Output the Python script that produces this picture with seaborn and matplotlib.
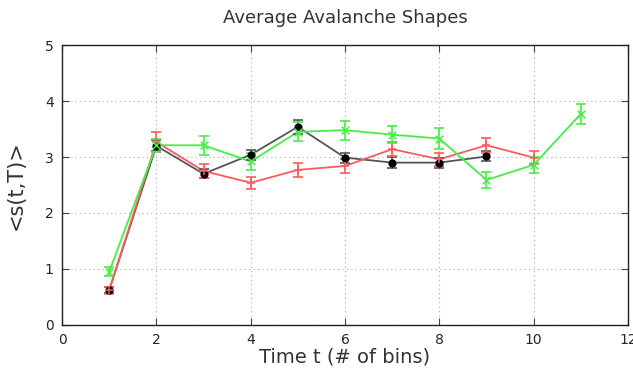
import matplotlib
matplotlib.use("Agg")
import matplotlib.pyplot as plt
import pandas as pd
import seaborn as sns

# series
black_t = [1, 2, 3, 4, 5, 6, 7, 8, 9]
black_s = [0.62, 3.20, 2.70, 3.04, 3.54, 2.99, 2.90, 2.90, 3.01]
black_err = [0.05, 0.10, 0.08, 0.09, 0.12, 0.09, 0.10, 0.09, 0.09]

red_t = [1, 2, 3, 4, 5, 6, 7, 8, 9, 10]
red_s = [0.62, 3.27, 2.75, 2.54, 2.77, 2.84, 3.14, 2.96, 3.21, 2.99]
red_err = [0.06, 0.18, 0.12, 0.11, 0.12, 0.12, 0.12, 0.12, 0.13, 0.12]

green_t = [1, 2, 3, 4, 5, 6, 7, 8, 9, 10, 11]
green_s = [0.95, 3.21, 3.21, 2.92, 3.45, 3.48, 3.40, 3.33, 2.59, 2.86, 3.77]
green_err = [0.08, 0.12, 0.17, 0.16, 0.17, 0.17, 0.15, 0.18, 0.14, 0.14, 0.18]

series = [
    ("black", black_t, black_s, black_err, "#555555", "o"),
    ("red", red_t, red_s, red_err, "#ff5a5a", "+"),
    ("green", green_t, green_s, green_err, "#44ee44", "x"),
]

sns.set_style("ticks")
plt.rcParams["font.family"] = ["DejaVu Sans"]

fig = plt.figure(figsize=(6.33, 3.76), dpi=100)
ax = fig.add_axes([0.098, 0.136, 0.894, 0.744])

for name, t, s, e, col, mk in series:
    df = pd.DataFrame({"t": t, "s": s})
    sns.lineplot(data=df, x="t", y="s", ax=ax, color=col, lw=1.3, zorder=2)
    ax.errorbar(t, s, yerr=e, fmt="none", ecolor=col, elinewidth=1.2,
                capsize=3.5, capthick=1.2, zorder=3)
    if mk == "o":
        ax.scatter(t, s, s=24, color="black", zorder=4)
    else:
        ax.scatter(t, s, s=30, marker=mk, color=col, linewidths=1.1, zorder=4)

ax.set_xlim(0, 12)
ax.set_ylim(0, 5)
ax.set_xticks(range(0, 13, 2))
ax.set_yticks(range(0, 6))
ax.grid(True, linestyle=(0, (1, 3)), color="#aaaaaa", linewidth=0.8)
ax.tick_params(direction="in", top=True, right=True, length=5, labelsize=10,
               color="#444444", pad=6)
for sp in ax.spines.values():
    sp.set_color("#222222")
    sp.set_linewidth(1.0)

ax.set_title("Average Avalanche Shapes", fontsize=13, color="#333333", pad=16)
ax.set_xlabel("Time t (# of bins)", fontsize=14, color="#333333", labelpad=0)
ax.set_ylabel("<s(t,T)>", fontsize=15, color="#333333", labelpad=14)

fig.savefig("out.png", dpi=100)
